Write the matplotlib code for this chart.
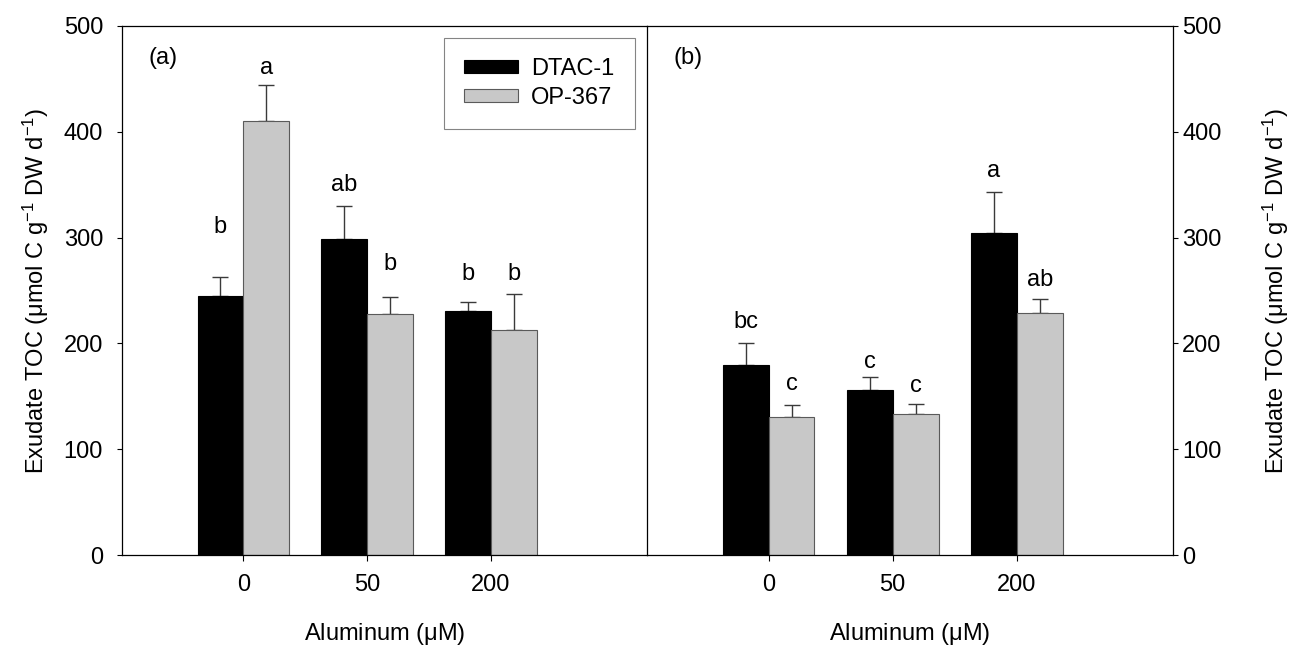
import numpy as np
import matplotlib
matplotlib.use("Agg")
from matplotlib import pyplot as plt

plt.rcParams['font.family'] = ['Liberation Sans', 'DejaVu Sans']
plt.rcParams['mathtext.fontset'] = 'custom'
plt.rcParams['mathtext.rm'] = 'Liberation Sans'
plt.rcParams['mathtext.it'] = 'Liberation Sans'

# Data
aluminum = ["0", "50", "200"]

# panel (a)
dtac_a = [245, 299, 231]
dtac_a_err = [18, 31, 8]
op_a = [410, 228, 213]
op_a_err = [34, 16, 34]
letters_dtac_a = ["b", "ab", "b"]
letters_op_a = ["a", "b", "b"]
letter_y_dtac_a = [310, 350, 266]
letter_y_op_a = [460, 275, 266]

# panel (b)
dtac_b = [180, 156, 304]
dtac_b_err = [20, 12, 39]
op_b = [130, 133, 229]
op_b_err = [12, 10, 13]
letters_dtac_b = ["bc", "c", "a"]
letters_op_b = ["c", "c", "ab"]
letter_y_dtac_b = [220, 182, 363]
letter_y_op_b = [162, 160, 260]

ylabel = r"Exudate TOC ($\mathrm{\mu}$mol C g$^{-1}$ DW d$^{-1}$)"
xlabel = r"Aluminum ($\mathrm{\mu}$M)"

FS = 17

fig = plt.figure(figsize=(12.94, 6.47), dpi=100)
W, H = 1294, 647
ax_a = fig.add_axes([122 / W, 1 - 555 / H, (647 - 122) / W, (555 - 26) / H])
ax_b = fig.add_axes([647 / W, 1 - 555 / H, (1173 - 647) / W, (555 - 26) / H])
ax_b.patch.set_visible(False)

x = np.arange(len(aluminum))
width = 0.37


def draw_panel(ax, dtac, dtac_err, op, op_err, l_d, l_o, ly_d, ly_o, tag):
    ax.bar(x - width / 2, dtac, width, color="black", edgecolor="black", linewidth=0.8,
           label="DTAC-1", zorder=2)
    ax.bar(x + width / 2, op, width, color="#c8c8c8", edgecolor="#5a5a5a", linewidth=0.8,
           label="OP-367", zorder=2)
    ax.errorbar(x - width / 2, dtac, yerr=[np.zeros(len(dtac)), dtac_err], fmt="none",
                ecolor="#3a3a3a", elinewidth=1.0, capsize=6, capthick=1.0, zorder=1)
    ax.errorbar(x + width / 2, op, yerr=[np.zeros(len(op)), op_err], fmt="none",
                ecolor="#3a3a3a", elinewidth=1.0, capsize=6, capthick=1.0, zorder=1)
    for i in range(len(x)):
        ax.text(x[i] - width / 2, ly_d[i], l_d[i], ha="center", va="center", fontsize=FS)
        ax.text(x[i] + width / 2, ly_o[i], l_o[i], ha="center", va="center", fontsize=FS)
    ax.set_xlim(-0.98, 3.26)
    ax.set_ylim(0, 500)
    ax.set_xticks(x)
    ax.set_xticklabels(aluminum, fontsize=FS)
    ax.set_yticks([0, 100, 200, 300, 400, 500])
    ax.tick_params(axis="x", direction="out", length=4, pad=10)
    ax.text(0.05, 0.94, tag, transform=ax.transAxes, fontsize=FS, ha="left", va="center")
    ax.set_xlabel(xlabel, fontsize=FS, labelpad=18)
    for s in ax.spines.values():
        s.set_linewidth(0.9)


draw_panel(ax_a, dtac_a, dtac_a_err, op_a, op_a_err, letters_dtac_a, letters_op_a,
           letter_y_dtac_a, letter_y_op_a, "(a)")
draw_panel(ax_b, dtac_b, dtac_b_err, op_b, op_b_err, letters_dtac_b, letters_op_b,
           letter_y_dtac_b, letter_y_op_b, "(b)")

ax_a.tick_params(axis="y", direction="out", length=3.6, pad=10, labelsize=FS,
                 left=True, right=False)
ax_a.set_ylabel(ylabel, fontsize=FS, labelpad=9)

ax_b.yaxis.tick_right()
ax_b.yaxis.set_label_position("right")
ax_b.tick_params(axis="y", direction="out", length=3.6, pad=3, labelsize=FS,
                 left=False, right=True)
ax_b.set_ylabel(ylabel, fontsize=FS, labelpad=28)
ax_b.spines["left"].set_visible(False)

leg = ax_a.legend(loc="upper left", bbox_to_anchor=((444 - 122) / 525, (555 - 38) / 529),
                  fontsize=FS, frameon=True, fancybox=False, edgecolor="#666666",
                  handlelength=2.3, handleheight=0.45, borderpad=0.85, labelspacing=0.3,
                  handletextpad=0.55, borderaxespad=0)
leg.get_frame().set_linewidth(0.8)

fig.savefig("out.png", dpi=100)
